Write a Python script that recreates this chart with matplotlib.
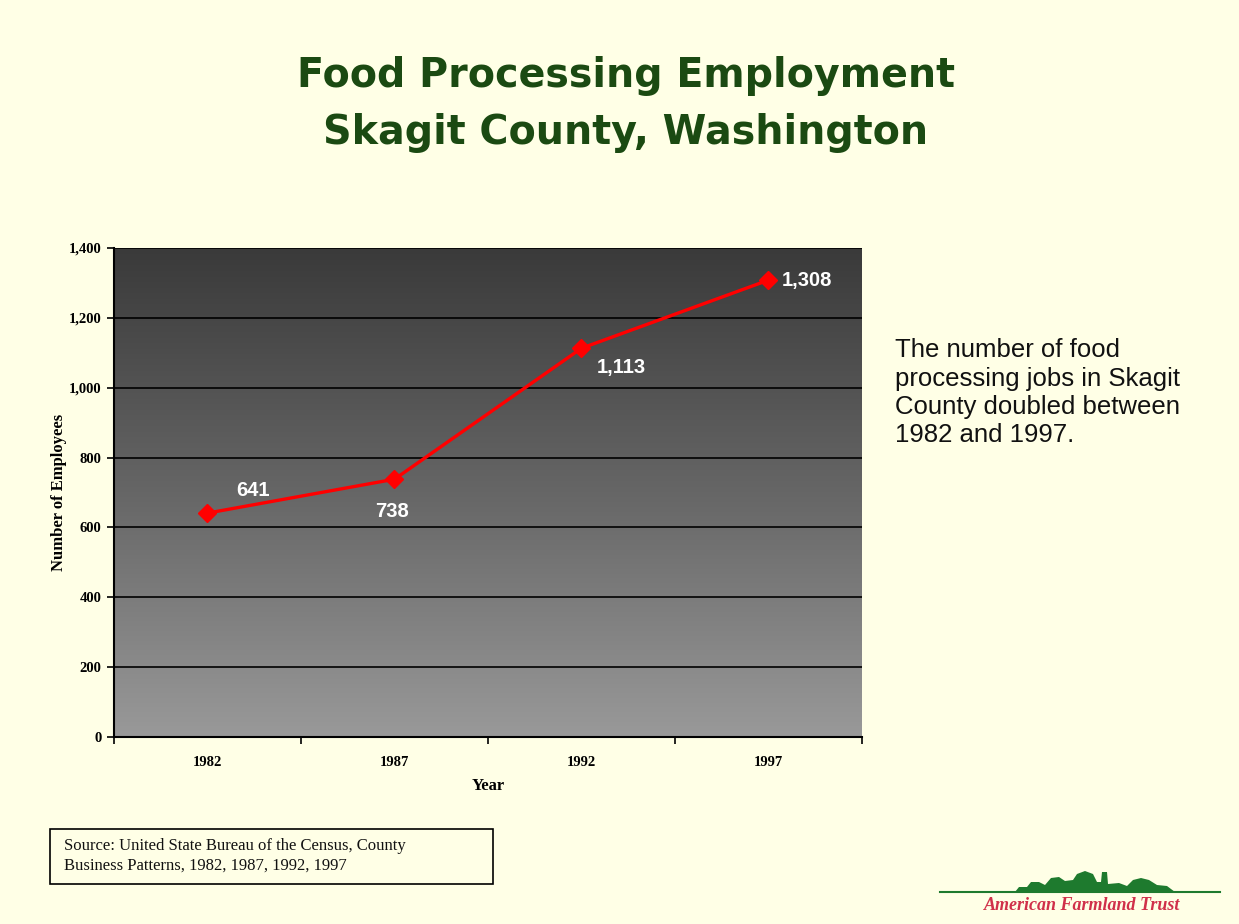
import numpy as np
import matplotlib
matplotlib.use("Agg")
import matplotlib.pyplot as plt
from matplotlib.patches import Rectangle, Polygon
from matplotlib.colors import LinearSegmentedColormap

years = ["1982", "1987", "1992", "1997"]
employees = [641, 738, 1113, 1308]
value_labels = ["641", "738", "1,113", "1,308"]
label_offsets = [(33, 16), (-2, -23), (29, -14), (28, 0)]
yticks = [0, 200, 400, 600, 800, 1000, 1200, 1400]
ytick_labels = ["0", "200", "400", "600", "800", "1,000", "1,200", "1,400"]

bg = "#FFFFE6"
fig = plt.figure(figsize=(12.39, 9.24), dpi=100, facecolor=bg)

# Title
fig.text(0.505, 0.918, "Food Processing Employment", ha="center", va="center",
         fontsize=28.5, fontweight="bold", color="#1B4A12", family="DejaVu Sans")
fig.text(0.505, 0.856, "Skagit County, Washington", ha="center", va="center",
         fontsize=28.5, fontweight="bold", color="#1B4A12", family="DejaVu Sans")

ax = fig.add_axes([0.092, 0.2024, 0.6037, 0.5292])
ax.set_facecolor("#777777")
x = np.arange(len(years))
ax.set_xlim(-0.5, len(years) - 0.5)
ax.set_ylim(0, 1400)

# gradient background
cmap = LinearSegmentedColormap.from_list("g", ["#3a3a3a", "#666666", "#999999"])
grad = np.linspace(0, 1, 256).reshape(-1, 1)
ax.imshow(grad, aspect="auto", cmap=cmap, extent=[0, 1, 0, 1],
          transform=ax.transAxes, zorder=0, origin="upper")

for yv in yticks[1:]:
    ax.axhline(yv, color="black", lw=1.2, zorder=1)

ax.plot(x, employees, color="#FF0000", lw=2.4, marker="D", markersize=9,
        markerfacecolor="#FF0000", markeredgecolor="#FF0000", zorder=3)

for xi, yi, lab, off in zip(x, employees, value_labels, label_offsets):
    ax.annotate(lab, (xi, yi), xytext=off, textcoords="offset points",
                ha="center", va="center", color="white", fontsize=14.5,
                fontweight="bold", family="Liberation Sans", zorder=4)

ax.set_yticks(yticks)
ax.set_yticklabels(ytick_labels, family="Liberation Serif", fontweight="bold", fontsize=10.5)
ax.set_xticks(x)
ax.set_xticklabels(years, family="Liberation Serif", fontweight="bold", fontsize=10.5)
ax.set_xticks(np.arange(-0.5, len(years), 1.0), minor=True)
ax.tick_params(axis="x", which="major", length=0, pad=14)
ax.tick_params(axis="x", which="minor", length=5, width=1.2, direction="out")
ax.tick_params(axis="y", length=5, width=1.2, direction="out", pad=4)

for s in ["top", "right"]:
    ax.spines[s].set_visible(False)
for s in ["left", "bottom"]:
    ax.spines[s].set_linewidth(1.5)

ax.set_ylabel("Number of Employees", family="Liberation Serif", fontweight="bold",
              fontsize=12, labelpad=1)
ax.set_xlabel("Year", family="Liberation Serif", fontweight="bold",
              fontsize=12, labelpad=6)

# right annotation
fig.text(0.722, 0.575,
         "The number of food\nprocessing jobs in Skagit\nCounty doubled between\n1982 and 1997.",
         ha="left", va="center", fontsize=18.5, color="#111111",
         family="Liberation Sans", linespacing=1.22)

# source box
fig.patches.append(Rectangle((50 / 1239, 1 - 884 / 924), 443 / 1239, 55 / 924,
                             transform=fig.transFigure, facecolor="none",
                             edgecolor="black", lw=1.2))
fig.text(64 / 1239, 1 - 856 / 924,
         "Source: United State Bureau of the Census, County\nBusiness Patterns, 1982, 1987, 1992, 1997",
         ha="left", va="center", fontsize=12, family="Liberation Serif",
         color="#111111", linespacing=1.3)

# logo
lax = fig.add_axes([935 / 1239, 1 - 918 / 924, 290 / 1239, 55 / 924])
lax.set_xlim(0, 290)
lax.set_ylim(0, 55)
lax.axis("off")
lax.plot([5, 285], [26, 26], color="#1E7A2E", lw=1.5)
sil = [(80, 26), (84, 31), (92, 31), (96, 36), (104, 36), (110, 33), (116, 40),
       (124, 41), (130, 37), (138, 38), (142, 44), (150, 47), (158, 44), (162, 36),
       (166, 36), (167, 46), (172, 46), (173, 34), (184, 35), (192, 32), (198, 38),
       (206, 40), (214, 38), (222, 33), (232, 32), (240, 26)]
lax.add_patch(Polygon(sil, closed=True, facecolor="#1E7A2E", edgecolor="none"))
lax.text(147, 12, "American Farmland Trust", ha="center", va="center",
         fontsize=13, style="italic", fontweight="bold",
         family="Liberation Serif", color="#D0304A")

fig.savefig("out.png", dpi=100, facecolor=bg)
